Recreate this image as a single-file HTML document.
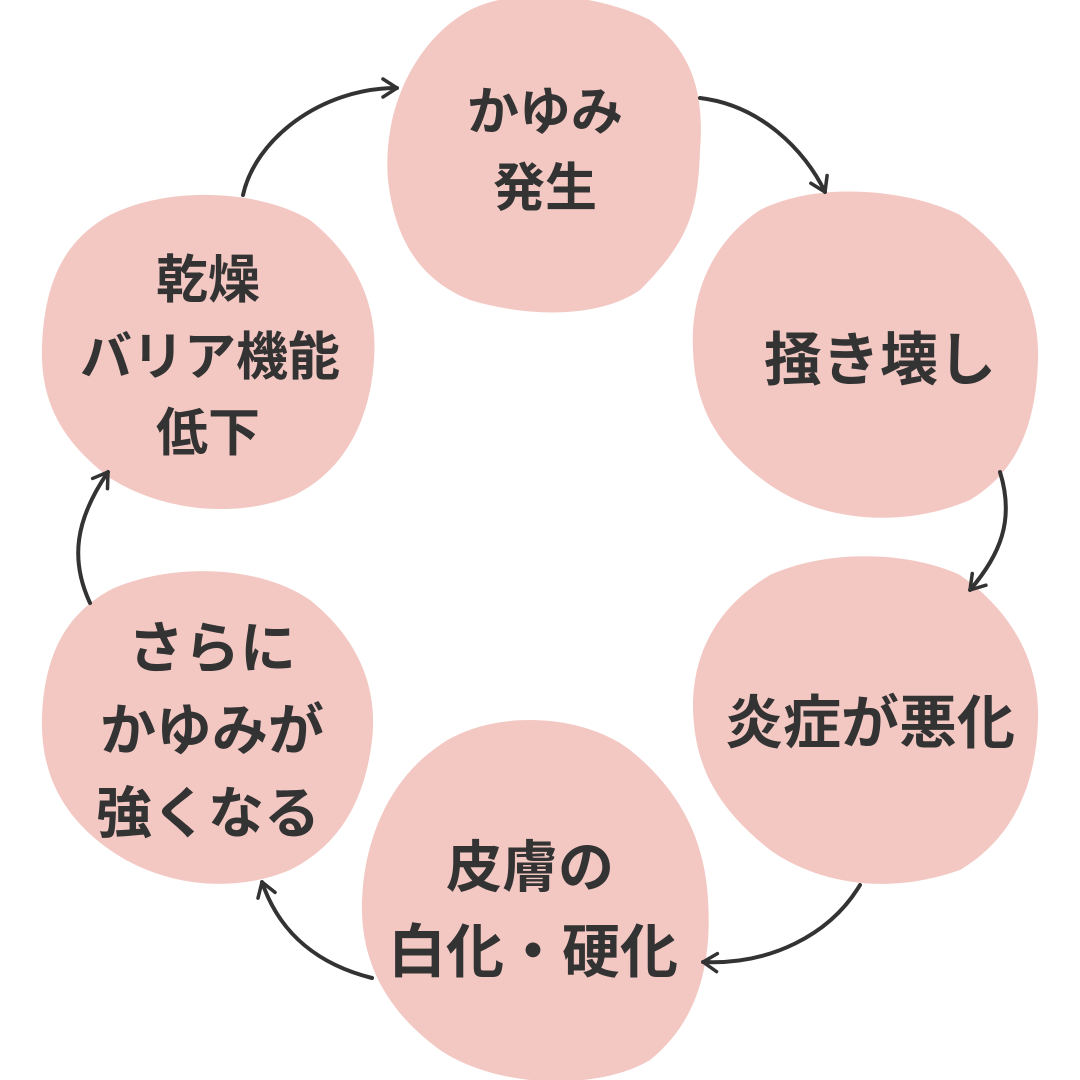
<!DOCTYPE html>
<html><head><meta charset="utf-8"><style>
html,body{margin:0;padding:0;background:#fff;}
svg{display:block}
text{font-family:"Liberation Sans","Noto Sans CJK JP",sans-serif;font-weight:bold;fill:#333;font-size:56px;text-anchor:middle}
</style></head><body>
<svg width="1080" height="1080" viewBox="0 0 1080 1080" xmlns="http://www.w3.org/2000/svg">
<defs>
<marker id="a" viewBox="0 0 20 20" refX="16" refY="10" markerWidth="20" markerHeight="20" orient="auto" markerUnits="userSpaceOnUse" style="overflow:visible">
<path d="M2,1 L16,10 L2,19" fill="none" stroke="#333" stroke-width="3.5" stroke-linecap="round" stroke-linejoin="round"/>
</marker>
</defs>
<g fill="#f3c8c3">
<path d="M470,10 C520,-15 600,-5 650,20 C690,50 705,90 700,150 C698,210 690,240 640,290 C600,318 530,318 470,300 C420,280 395,240 388,180 C382,110 415,40 470,10Z"/>
<path d="M760,210 C820,180 910,190 960,215 C1010,250 1040,300 1038,360 C1036,420 1020,470 970,500 C900,530 820,520 770,485 C720,450 695,410 693,350 C690,290 715,240 760,210Z"/>
<path d="M770,575 C830,548 910,552 960,575 C1010,610 1040,660 1038,720 C1036,790 1010,840 960,870 C890,895 820,885 770,850 C720,810 695,770 693,710 C692,650 720,605 770,575Z"/>
<path d="M440,745 C490,710 580,712 630,750 C680,790 705,840 708,900 C712,960 700,1020 650,1060 C600,1090 500,1090 440,1050 C385,1010 360,960 362,900 C365,830 395,775 440,745Z"/>
<path d="M110,590 C170,562 260,565 310,600 C360,640 378,690 372,740 C365,800 340,845 290,870 C230,895 160,885 110,850 C60,815 40,770 42,715 C45,655 65,615 110,590Z"/>
<path d="M110,215 C170,185 260,190 310,220 C360,260 378,310 374,360 C370,420 345,470 295,495 C235,520 160,510 110,478 C60,440 40,400 42,345 C45,280 65,240 110,215Z"/>
</g>
<g fill="none" stroke="#333" stroke-width="4" stroke-linecap="round">
<path d="M243,195 C255,140 320,88 397,88" marker-end="url(#a)"/>
<path d="M700,98 C760,105 805,150 825,192" marker-end="url(#a)"/>
<path d="M1000,472 C1015,520 1000,555 970,590" marker-end="url(#a)"/>
<path d="M860,885 C830,935 770,965 703,962" marker-end="url(#a)"/>
<path d="M372,978 C320,965 280,935 262,882" marker-end="url(#a)"/>
<path d="M90,603 C70,560 75,520 108,472" marker-end="url(#a)"/>
</g>
<text x="545" y="130" style="font-size:52px">かゆみ</text>
<text x="545" y="206" style="font-size:52px">発生</text>
<text x="880" y="380" style="font-size:58px">掻き壊し</text>
<text x="870" y="743" style="font-size:58px">炎症が悪化</text>
<text x="530" y="887" style="font-size:56px">皮膚の</text>
<text x="533" y="972" style="font-size:58px">白化・硬化</text>
<text x="212" y="668" style="font-size:56px">さらに</text>
<text x="212" y="750" style="font-size:56px">かゆみが</text>
<text x="208" y="833" style="font-size:56px">強くなる</text>
<text x="208" y="298" style="font-size:52px">乾燥</text>
<text x="210" y="375" style="font-size:52px">バリア機能</text>
<text x="208" y="451" style="font-size:52px">低下</text>
</svg>
</body></html>
